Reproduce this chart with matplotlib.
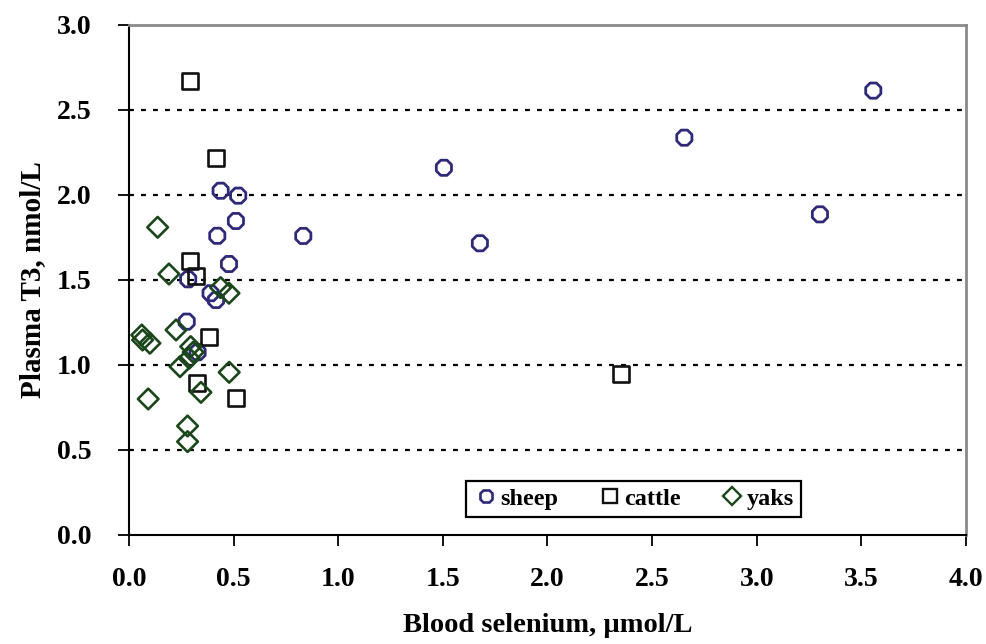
import matplotlib
matplotlib.use("Agg")
import matplotlib.pyplot as plt
from matplotlib.lines import Line2D

sheep_x = [0.438, 0.522, 0.511, 0.422, 0.478, 0.283, 0.390, 0.416, 0.276, 0.328,
           0.833, 1.505, 1.677, 2.654, 3.302, 3.557]
sheep_y = [2.025, 1.996, 1.847, 1.760, 1.594, 1.504, 1.422, 1.382, 1.255, 1.075,
           1.759, 2.160, 1.716, 2.337, 1.886, 2.614]

cattle_x = [0.290, 0.416, 0.290, 0.319, 0.382, 0.326, 0.510, 2.350]
cattle_y = [2.670, 2.220, 1.613, 1.524, 1.166, 0.892, 0.804, 0.945]

yaks_x = [0.137, 0.191, 0.438, 0.478, 0.225, 0.061, 0.065, 0.100, 0.295, 0.307,
          0.288, 0.244, 0.479, 0.344, 0.092, 0.280, 0.280]
yaks_y = [1.810, 1.535, 1.455, 1.422, 1.206, 1.176, 1.147, 1.128, 1.108, 1.075,
          1.040, 0.990, 0.957, 0.839, 0.800, 0.641, 0.549]

x_ticks = [0.0, 0.5, 1.0, 1.5, 2.0, 2.5, 3.0, 3.5, 4.0]
y_ticks = [0.0, 0.5, 1.0, 1.5, 2.0, 2.5, 3.0]
grid_levels = [0.5, 1.0, 1.5, 2.0, 2.5]

plt.rcParams['font.family'] = ['Liberation Serif', 'DejaVu Serif']
plt.rcParams['font.weight'] = 'bold'

fig = plt.figure(figsize=(9.86, 6.44), dpi=100)
ax = fig.add_axes([0.1308, 0.1693, 0.9797 - 0.1308, 0.9612 - 0.1693])

sheep_c = '#2e2a78'
cattle_c = '#111111'
yaks_c = '#1b461b'

for g in grid_levels:
    ax.axhline(g, color='black', lw=1.6, ls=(0, (2.2, 3.2)), zorder=1)

ax.scatter(sheep_x, sheep_y, marker='8', s=140, facecolors='none',
           edgecolors=sheep_c, linewidths=2.0, zorder=3)
ax.scatter(cattle_x, cattle_y, marker='s', s=130, facecolors='none',
           edgecolors=cattle_c, linewidths=1.9, zorder=3)
ax.scatter(yaks_x, yaks_y, marker='D', s=110, facecolors='none',
           edgecolors=yaks_c, linewidths=1.9, zorder=3)

ax.set_xlim(0, 4.0)
ax.set_ylim(0, 3.0)
ax.set_xticks(x_ticks)
ax.set_yticks(y_ticks)
ax.set_xticklabels([f"{v:.1f}" for v in x_ticks], fontsize=20, fontweight='bold')
ax.set_yticklabels([f"{v:.1f}" for v in y_ticks], fontsize=20, fontweight='bold')
ax.tick_params(axis='both', direction='out', length=8, width=1.3, colors='black')
ax.tick_params(axis='x', pad=15)
ax.tick_params(axis='y', pad=19)

for s in ['left', 'bottom']:
    ax.spines[s].set_color('black')
    ax.spines[s].set_linewidth(1.5)
for s in ['top', 'right']:
    ax.spines[s].set_color('#8a8a8a')
    ax.spines[s].set_linewidth(2.0)

ax.set_xlabel('Blood selenium, µmol/L', fontsize=20.5, fontweight='bold', labelpad=15)
ax.set_ylabel('Plasma T3, nmol/L', fontsize=21, fontweight='bold', labelpad=8)

handles = [
    Line2D([], [], ls='none', marker='8', markersize=10, markerfacecolor='none',
           markeredgecolor=sheep_c, markeredgewidth=1.9),
    Line2D([], [], ls='none', marker='s', markersize=10, markerfacecolor='none',
           markeredgecolor=cattle_c, markeredgewidth=1.7),
    Line2D([], [], ls='none', marker='D', markersize=9, markerfacecolor='none',
           markeredgecolor=yaks_c, markeredgewidth=1.7),
]
leg = ax.legend(handles, ['sheep', 'cattle', 'yaks'], loc='center',
                bbox_to_anchor=(0.603, 0.0706), ncol=3, frameon=True, fancybox=False,
                edgecolor='black', prop={'weight': 'bold', 'size': 17.5},
                handletextpad=0.1, columnspacing=1.6, handlelength=1.0,
                borderpad=0.3, borderaxespad=0)
leg.get_frame().set_linewidth(1.6)
leg.get_frame().set_facecolor('white')
leg.get_frame().set_alpha(1)

fig.savefig('out.png', dpi=100, facecolor='white')
